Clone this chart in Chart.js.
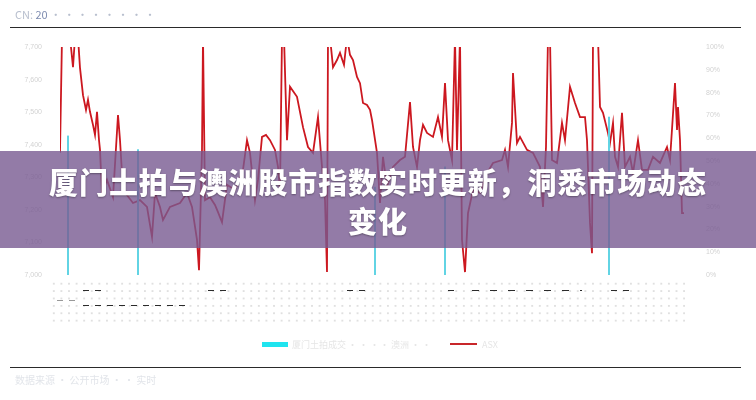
<!DOCTYPE html>
<html>
<head>
<meta charset="utf-8">
<script src="https://cdn.jsdelivr.net/npm/chart.js"></script>
<style>
  html, body { margin: 0; padding: 0; background: #fff; }
  #wrap { position: relative; width: 756px; height: 400px; overflow: hidden; font-family: "Noto Sans CJK SC", "Noto Sans", sans-serif; }
  #chart { position: absolute; left: 0; top: 0; }
  .rule { position: absolute; left: 10px; width: 731px; height: 1px; background: #2a2a2a; }
  .faint { position: absolute; color: #c9ced8; font-size: 10px; white-space: nowrap; }
  #table { position: absolute; left: 50px; top: 280px; width: 635px; height: 46px;
    background-image: radial-gradient(circle, #e0e0e0 0.8px, transparent 1.1px);
    background-size: 7.6px 7.4px; }
  .dash { position: absolute; height: 1px;
    background: repeating-linear-gradient(to right, #2b2b2b 0 6px, transparent 6px 12px); }
  .swatch { position: absolute; }
  #banner { position: absolute; left: 0; top: 151px; width: 756px; height: 97px;
    background: rgba(120, 90, 145, 0.8); color: #fff; text-align: center;
    font-weight: 900; font-size: 29px; line-height: 39px; letter-spacing: 0.9px;
    padding-top: 11px; box-sizing: border-box;
    text-shadow: 0 1px 2px rgba(0,0,0,0.35); }
</style>
</head>
<body>
<div id="wrap">
  <canvas id="chart" width="756" height="400"></canvas>

  <div class="faint" style="left:15px; top:6px; font-size:11px; color:#b8bfce;">CN: <span style="color:#7e8cb0">20</span> ·  ·  ·   ·  ·  ·  ·  ·</div>
  <div class="rule" style="top:27px;"></div>

  <div id="table"></div>
  <div class="dash" style="left:57px; top:300px; width:20px; background:repeating-linear-gradient(to right,#999 0 6px,transparent 6px 12px);"></div>
  <div class="dash" style="left:83px; top:290px; width:18px;"></div>
  <div class="dash" style="left:83px; top:305px; width:108px;"></div>
  <div class="dash" style="left:208px; top:290px; width:22px;"></div>
  <div class="dash" style="left:347px; top:290px; width:20px;"></div>
  <div class="dash" style="left:448px; top:290px; width:6px;"></div>
  <div class="dash" style="left:472px; top:290px; width:110px; background:repeating-linear-gradient(to right,#2b2b2b 0 7px,transparent 7px 18px);"></div>
  <div class="dash" style="left:611px; top:290px; width:20px;"></div>

  <div class="swatch" style="left:262px; top:342px; width:26px; height:5px; background:#1fe4ef;"></div>
  <div class="faint" style="left:292px; top:338px; font-size:9px; color:#e6e6e6;">厦门土拍成交 · · ·</div>
  <div class="faint" style="left:380px; top:338px; font-size:9px; color:#e6e6e6;">· 澳洲 · ·</div>
  <div class="swatch" style="left:450px; top:343px; width:27px; height:2px; background:#c8262a;"></div>
  <div class="faint" style="left:482px; top:338px; font-size:9px; color:#e6e6e6;">ASX</div>

  <div class="rule" style="top:367px;"></div>
  <div class="faint" style="left:15px; top:372px; font-size:10px; color:#e2e5ea;">数据来源 · 公开市场 · · 实时</div>

  <div id="banner">厦门土拍与澳洲股市指数实时更新，洞悉市场动态<br>变化</div>
</div>

<script>
// trading days (x) and ASX index level
const days = [0, 0.5, 1.5, 2.5, 3.25, 3.75, 4.5, 5, 5.75, 6.5, 7, 7.5, 8.25, 8.75, 9.25, 9.75, 10, 10.5, 11.75, 13.25,
  14.5, 15, 15.75, 18.25, 20, 21.75, 23, 23.75, 25, 25.75, 27.5, 30, 31.75, 33, 34.25, 34.75, 35.5, 35.75, 36.25, 37.5,
  38.75, 39.5, 40.5, 41.75, 43.75, 45.75, 46.75, 47.5, 48.75, 49.5, 50.5, 51.5, 52.5, 53.75, 54.5, 55, 55.5, 56, 56.75, 57.5,
  59.25, 60.75, 62, 63.25, 64.5, 65.5, 66.25, 66.75, 67, 67.5, 68.25, 69.25, 70, 71, 71.75, 72.5, 73.25, 74.25, 75, 75.75,
  76.75, 77.5, 78, 79.25, 80, 80.75, 81.75, 83.25, 85, 86.25, 87.5, 88.25, 89.25, 90, 90.75, 91.75, 93.25, 94.5, 95.5, 96.25,
  97, 98, 98.75, 99.25, 100, 100.5, 101.25, 102, 103.25, 105, 106.75, 108.25, 110.5, 111.25, 112, 113, 113.25, 114.25, 115, 116.75,
  118.25, 120, 120.75, 121.5, 122, 122.5, 123, 124.25, 125.5, 126.25, 127.5, 128.75, 130, 131.25, 131.75, 132.5, 133, 133.25, 134.5, 135,
  135.75, 137, 137.5, 138.25, 138.75, 139.5, 140.5, 141.25, 142.5, 143.25, 144.5, 145.5, 147, 148.25, 150, 151.75, 152.5, 153.75, 154.25, 154.5,
  155, 155.5, 156];
const asxIndex = [7375, 7730, 7730, 7730, 7638, 7730, 7730, 7636, 7552, 7507, 7538, 7501, 7461, 7430, 7501, 7414, 7384, 7252, 7292, 7239,
  7491, 7414, 7261, 7221, 7230, 7209, 7117, 7252, 7209, 7169, 7209, 7221, 7252, 7209, 7108, 7015, 7384, 7730, 7230, 7239,
  7215, 7193, 7162, 7277, 7261, 7323, 7414, 7375, 7230, 7292, 7424, 7430, 7414, 7384, 7332, 7261, 7730, 7730, 7414, 7578,
  7547, 7454, 7393, 7375, 7485, 7332, 7230, 7009, 7730, 7730, 7638, 7660, 7682, 7645, 7730, 7676, 7660, 7608, 7589, 7528,
  7522, 7507, 7476, 7375, 7221, 7363, 7270, 7332, 7353, 7363, 7531, 7393, 7332, 7414, 7461, 7436, 7424, 7485, 7424, 7589,
  7414, 7353, 7730, 7384, 7730, 7108, 7009, 7190, 7261, 7252, 7313, 7344, 7353, 7384, 7332, 7467, 7620, 7405, 7424, 7384,
  7375, 7332, 7209, 7393, 7730, 7730, 7353, 7344, 7467, 7414, 7578, 7528, 7485, 7485, 7414, 7160, 7067, 7730, 7730, 7516,
  7498, 7436, 7405, 7467, 7363, 7332, 7498, 7332, 7363, 7313, 7414, 7323, 7323, 7363, 7344, 7393, 7353, 7589, 7445, 7516,
  7414, 7190, 7190];

// Xiamen land auction days and level markers
const landDays = [2, 19.5, 78.75, 96.25, 137.25];
const landValues = [7427, 7385, 7270, 7332, 7485];

const indexMin = 7000;
const indexMax = 7700;
const indexStep = 100;
const pctMax = 100;
const pctStep = 10;

const ctx = document.getElementById('chart').getContext('2d');
new Chart(ctx, {
  type: 'line',
  data: {
    datasets: [
      {
        type: 'bar',
        label: '厦门土拍',
        data: landDays.map((d, i) => ({ x: d, y: [indexMin, landValues[i]] })),
        backgroundColor: '#62d4e4',
        barThickness: 1.4,
        grouped: false,
        yAxisID: 'y'
      },
      {
        label: '澳洲股市指数',
        data: days.map((d, i) => ({ x: d, y: asxIndex[i] })),
        borderColor: '#cc1820',
        borderWidth: 1.8,
        pointRadius: 0,
        tension: 0,
        fill: false,
        yAxisID: 'y'
      }
    ]
  },
  options: {
    responsive: false,
    animation: false,
    layout: { padding: { top: 47, bottom: 125, left: 0, right: 0 } },
    plugins: { legend: { display: false }, tooltip: { enabled: false } },
    scales: {
      x: {
        type: 'linear', min: 0, max: 156, offset: false, display: false
      },
      y: {
        position: 'left', min: indexMin, max: indexMax,
        grid: { display: false }, border: { display: false },
        ticks: { stepSize: indexStep, color: '#d2d2d2', font: { size: 7 }, padding: 10 },
        afterFit: s => { s.width = 60; }
      },
      y2: {
        position: 'right', min: 0, max: pctMax,
        grid: { display: false }, border: { display: false },
        ticks: { stepSize: pctStep, color: '#d2d2d2', font: { size: 7 }, padding: 14, callback: v => v + '%' },
        afterFit: s => { s.width = 72; }
      }
    }
  }
});
</script>
</body>
</html>
